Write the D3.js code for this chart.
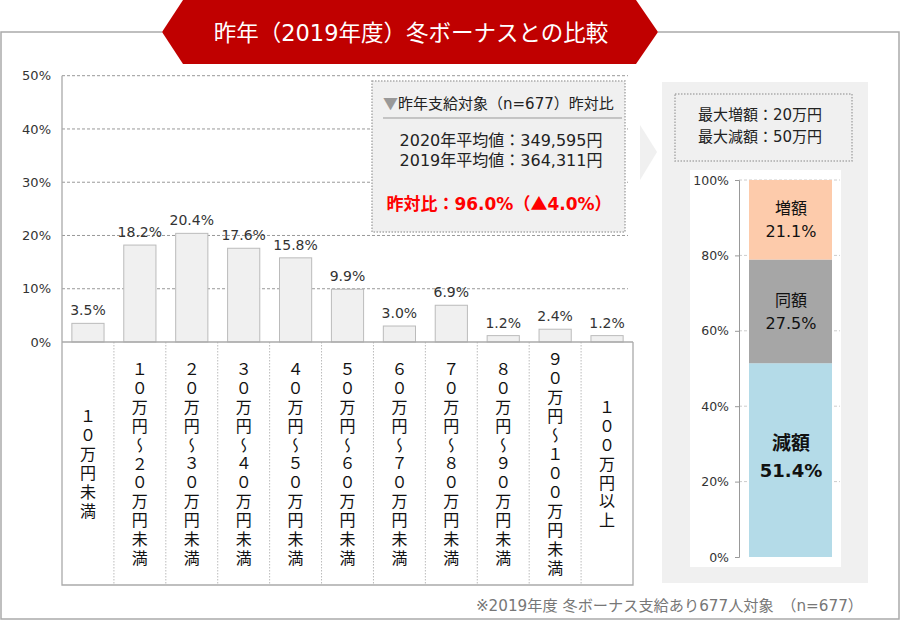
<!DOCTYPE html>
<html><head><meta charset="utf-8">
<script src="https://cdn.jsdelivr.net/npm/d3@7/dist/d3.min.js"></script>
<style>
html,body{margin:0;padding:0;background:#fff;}
svg{display:block;font-family:"DejaVu Sans","Noto Sans CJK JP",sans-serif;}
.cjk{font-family:"Noto Sans CJK JP","DejaVu Sans",sans-serif;}
</style></head>
<body>
<svg id="c" width="900" height="620"></svg>
<script>
// ---- data ----
const title = "昨年（2019年度）冬ボーナスとの比較";
const categories = ["１０万円未満","１０万円〜２０万円未満","２０万円〜３０万円未満","３０万円〜４０万円未満","４０万円〜５０万円未満","５０万円〜６０万円未満","６０万円〜７０万円未満","７０万円〜８０万円未満","８０万円〜９０万円未満","９０万円〜１００万円未満","１００万円以上"];
const shares = [3.5,18.2,20.4,17.6,15.8,9.9,3.0,6.9,1.2,2.4,1.2];
const yTicks = [0,10,20,30,40,50];
const infoHeader = "昨年支給対象（n=677）昨対比";
const infoLines = ["2020年平均値：349,595円","2019年平均値：364,311円"];
const infoRatio = "昨対比：96.0%（▲4.0%）";
const maxLines = ["最大増額：20万円","最大減額：50万円"];
const stackCats = ["減額","同額","増額"];
const stackVals = [51.4,27.5,21.1];
const stackTicks = [0,20,40,60,80,100];
const footnote = "※2019年度 冬ボーナス支給あり677人対象　（n=677）";

const svg = d3.select("#c");
const gray = "#aaa";

// outer frame
svg.append("path").attr("d","M162,32 H1 V619 H899 V32 H658")
  .attr("fill","none").attr("stroke",gray).attr("stroke-width",1.5);

// title banner
svg.append("path").attr("d","M162,32 L183,0 H636 L658,32 L636,64 H183 Z").attr("fill","#c00000");
svg.append("text").attr("x",411).attr("y",41).attr("text-anchor","middle")
  .attr("fill","#fff").attr("font-size",22.5).attr("font-weight",400).text(title);

// ---- left bar chart ----
const L = {x0:62, x1:633, yTop:75.7, yBot:342, tableBot:585};
const x = d3.scaleBand().domain(categories).range([L.x0,L.x1]).paddingInner(0.38).paddingOuter(0.19);
const y = d3.scaleLinear().domain([0,50]).range([L.yBot,L.yTop]);

svg.append("g").selectAll("line").data(yTicks.filter(d=>d>0)).join("line")
  .attr("x1",L.x0).attr("x2",628).attr("y1",d=>y(d)).attr("y2",d=>y(d))
  .attr("stroke","#999").attr("stroke-dasharray","3,2").attr("stroke-width",1);

const yAxis = d3.axisLeft(y).tickValues(yTicks).tickFormat(d=>d+"%").tickSize(0).tickPadding(11);
const ga = svg.append("g").attr("transform",`translate(${L.x0},0)`).call(yAxis);
ga.select(".domain").remove();
ga.selectAll("text").attr("font-size",13).attr("fill","#333").attr("font-family","'DejaVu Sans',sans-serif");

// bars
svg.append("g").selectAll("rect").data(shares).join("rect")
  .attr("x",(d,i)=>x(categories[i])).attr("width",x.bandwidth())
  .attr("y",d=>y(d)).attr("height",d=>y(0)-y(d))
  .attr("fill","#f0f0f0").attr("stroke","#bbb").attr("stroke-width",1);
svg.append("g").selectAll("text").data(shares).join("text")
  .attr("x",(d,i)=>x(categories[i])+x.bandwidth()/2).attr("y",d=>y(d)-8)
  .attr("text-anchor","middle").attr("font-size",14).attr("fill","#333")
  .text(d=>d.toFixed(1)+"%");

// label table
const step = x.step();
const seps = categories.slice(1).map(c=>x(c)-step*x.paddingInner()/2);
svg.append("g").selectAll("line").data(seps).join("line")
  .attr("x1",d=>d).attr("x2",d=>d).attr("y1",L.yBot).attr("y2",L.tableBot)
  .attr("stroke","#bbb").attr("stroke-dasharray","1.5,1.5");
svg.append("path").attr("d",`M${L.x0},${L.yTop} V${L.tableBot} H${L.x1} V${L.yBot} M${L.x0},${L.yBot} H${L.x1}`)
  .attr("fill","none").attr("stroke",gray).attr("stroke-width",1.3);

const midY = (L.yBot+L.tableBot)/2;
svg.append("g").selectAll("text").data(categories).join("text")
  .attr("class","cjk")
  .attr("x",c=>x(c)+x.bandwidth()/2).attr("y",midY+1.5)
  .attr("text-anchor","middle")
  .style("writing-mode","vertical-rl")
  .style("letter-spacing","2.9px")
  .attr("font-size",16).attr("fill","#111").text(c=>c);

// info box
svg.append("rect").attr("x",372).attr("y",81).attr("width",253).attr("height",151)
  .attr("fill","#f0f0f0").attr("stroke","#aaa").attr("stroke-width",1.5).attr("stroke-dasharray","1.5,1.5");
const hdr = svg.append("text").attr("x",383).attr("y",109).attr("font-size",15).attr("fill","#222");
hdr.append("tspan").attr("class","cjk").attr("fill","#999").text("▼");
hdr.append("tspan").text(infoHeader);
svg.append("line").attr("x1",383).attr("x2",622).attr("y1",118).attr("y2",118).attr("stroke","#999");
svg.append("g").selectAll("text").data(infoLines).join("text")
  .attr("x",501).attr("y",(d,i)=>146+i*19.5).attr("text-anchor","middle")
  .attr("font-size",16).attr("fill","#222").text(d=>d);
const parts = infoRatio.split("▲");
const rt = svg.append("text").attr("x",499).attr("y",210).attr("text-anchor","middle")
  .attr("font-size",17).attr("font-weight",700).attr("fill","#ff0000");
rt.append("tspan").text(parts[0]);
rt.append("tspan").attr("class","cjk").text("▲");
rt.append("tspan").text(parts[1]);

// chevron
svg.append("path").attr("d","M640,125 L657,152 L640,180 Z").attr("fill","#f0f0f0");

// ---- right panel ----
svg.append("rect").attr("x",662).attr("y",82).attr("width",206).attr("height",501).attr("fill","#f0f0f0");
svg.append("rect").attr("x",675).attr("y",94).attr("width",177).attr("height",67)
  .attr("fill","none").attr("stroke","#aaa").attr("stroke-width",1.5).attr("stroke-dasharray","1.5,1.5");
svg.append("g").selectAll("text").data(maxLines).join("text")
  .attr("x",760).attr("y",(d,i)=>120+i*21.5).attr("text-anchor","middle")
  .attr("font-size",15).attr("fill","#222").text(d=>d);
svg.append("rect").attr("x",690).attr("y",170).attr("width",151).attr("height",397).attr("fill","#fff");

const ys = d3.scaleLinear().domain([0,100]).range([557,180]);
svg.append("g").selectAll("line").data(stackTicks.filter(d=>d>0)).join("line")
  .attr("x1",739).attr("x2",840).attr("y1",d=>ys(d)).attr("y2",d=>ys(d))
  .attr("stroke","#ccc").attr("stroke-dasharray","3,2");
const ya2 = d3.axisLeft(ys).tickValues(stackTicks).tickFormat(d=>d+"%").tickSize(4).tickPadding(6);
const gb = svg.append("g").attr("transform","translate(739,0)").call(ya2);
gb.select(".domain").attr("stroke","#999");
gb.selectAll(".tick line").attr("stroke","#999");
gb.selectAll("text").attr("font-size",12.5).attr("fill","#333").attr("font-family","'DejaVu Sans',sans-serif");

const stackColors = ["#b4dbe8","#a6a6a6","#fdcbab"];
let acc = 0;
const segs = stackVals.map((v,i)=>{const s={cat:stackCats[i],v,lo:acc,hi:acc+v,col:stackColors[i]};acc+=v;return s;});
svg.append("g").selectAll("rect").data(segs).join("rect")
  .attr("x",749).attr("width",83).attr("y",d=>ys(d.hi)).attr("height",d=>ys(d.lo)-ys(d.hi))
  .attr("fill",d=>d.col);
const lblStyle = [{fs:19,fs2:18,fw:700,base:450,gap:27},{fs:16,fs2:16,fw:400,base:306,gap:23},{fs:16,fs2:16,fw:400,base:214,gap:23}];
segs.forEach((s,i)=>{
  const o = lblStyle[i];
  svg.append("text").attr("x",791).attr("y",o.base).attr("text-anchor","middle")
    .attr("font-size",o.fs).attr("font-weight",o.fw).attr("fill","#111").text(s.cat);
  svg.append("text").attr("x",791).attr("y",o.base+o.gap).attr("text-anchor","middle")
    .attr("font-size",o.fs2).attr("font-weight",o.fw).attr("fill","#111").text(s.v.toFixed(1)+"%");
});

// footnote
svg.append("text").attr("x",863).attr("y",611).attr("text-anchor","end")
  .attr("font-size",15.2).attr("fill","#777").text(footnote);
</script>
</body></html>
